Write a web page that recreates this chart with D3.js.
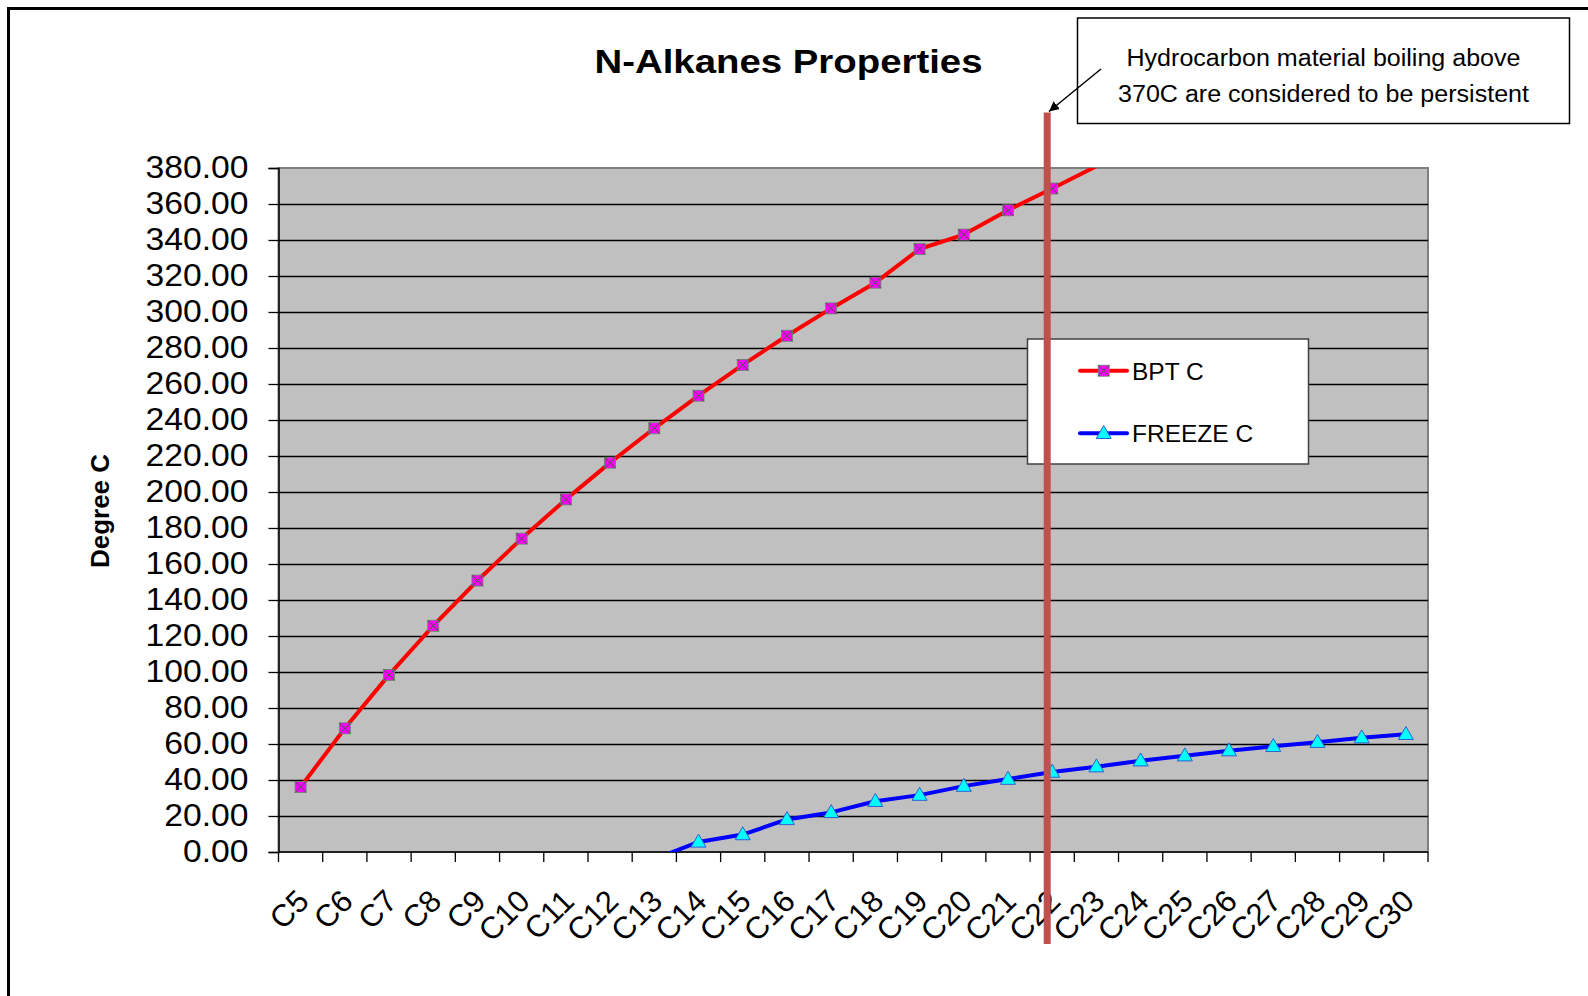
<!DOCTYPE html>
<html>
<head>
<meta charset="utf-8">
<script src="https://cdn.jsdelivr.net/npm/d3@7"></script>
<style>
  html, body { margin: 0; padding: 0; background: #fff; }
  svg { display: block; font-family: Arial, "Liberation Sans", sans-serif; }
</style>
</head>
<body>
<svg id="chart" width="1588" height="996"></svg>
<script>
// ---------- data ----------
const categories = ["C5","C6","C7","C8","C9","C10","C11","C12","C13","C14","C15","C16","C17",
  "C18","C19","C20","C21","C22","C23","C24","C25","C26","C27","C28","C29","C30"];
const bptValues = [36.1, 68.7, 98.4, 125.7, 150.8, 174.1, 195.9, 216.3, 235.4, 253.5, 270.6,
  286.8, 302.0, 316.3, 335.0, 343.0, 356.5, 368.6, 381.0, null, null, null, null, null, null, null];
const freezeValues = [null, null, null, null, null, null, null, null, -4.0, 5.6, 9.7, 18.1,
  22.0, 28.2, 31.6, 36.6, 40.5, 44.4, 47.4, 50.7, 53.5, 56.3, 58.7, 61.0, 63.5, 65.4];
const yTicks = [0, 20, 40, 60, 80, 100, 120, 140, 160, 180, 200, 220, 240, 260, 280, 300,
  320, 340, 360, 380];
const seriesNames = ["BPT C", "FREEZE C"];
const titleText = "N-Alkanes  Properties";
const yAxisTitle = "Degree C";
const noteLines = ["Hydrocarbon material boiling above", "370C are considered to be persistent"];
const markerCategory = "C22";

// ---------- layout ----------
const svg = d3.select("#chart");
const P = { left: 278.5, right: 1428, top: 168, bottom: 852 };

const x = d3.scaleBand().domain(categories).range([P.left, P.right]).padding(0);
const y = d3.scaleLinear().domain([0, 380]).range([P.bottom, P.top]);
const cx = c => x(c) + x.bandwidth() / 2;

// outer frame (only top & left visible)
svg.append("path").attr("d", "M8.5,1000V8.5H1600")
  .attr("fill", "none").attr("stroke", "#000").attr("stroke-width", 3);

// plot area
svg.append("rect").attr("x", P.left).attr("y", P.top)
  .attr("width", P.right - P.left).attr("height", P.bottom - P.top)
  .attr("fill", "#C0C0C0").attr("stroke", "#808080").attr("stroke-width", 2);

// gridlines
svg.append("g").selectAll("line").data(yTicks.filter(d => d > 0 && d < 380)).join("line")
  .attr("x1", P.left).attr("x2", P.right)
  .attr("y1", d => Math.round(y(d)) + 0.5).attr("y2", d => Math.round(y(d)) + 0.5)
  .attr("stroke", "#000").attr("stroke-width", 1.3);

// y axis
const emW = s => Array.from(s).reduce((a, ch) => a + (ch === "." ? 0.278 : 0.556), 0);
const yAxis = d3.axisLeft(y).tickValues(yTicks).tickSize(10).tickPadding(20)
  .tickFormat(d => d.toFixed(2));
const gy = svg.append("g").attr("transform", `translate(${P.left},0)`).call(yAxis);
gy.select(".domain").attr("stroke", "#000").attr("stroke-width", 1.5);
gy.selectAll(".tick line").attr("stroke", "#000").attr("stroke-width", 1.3);
gy.selectAll(".tick text").attr("font-size", 31).attr("fill", "#000")
  .attr("font-family", "Arial, 'Liberation Sans', sans-serif")
  .attr("textLength", d => 103 * emW(d.toFixed(2)) / 3.058).attr("lengthAdjust", "spacingAndGlyphs");

// x axis: ticks at category boundaries
const xBound = categories.map(c => x(c)).concat([P.right]);
const gx = svg.append("g");
gx.append("line").attr("x1", P.left).attr("x2", P.right)
  .attr("y1", P.bottom).attr("y2", P.bottom).attr("stroke", "#000").attr("stroke-width", 1.5);
gx.selectAll("line.t").data(xBound).join("line").attr("class", "t")
  .attr("x1", d => d).attr("x2", d => d).attr("y1", P.bottom).attr("y2", P.bottom + 10)
  .attr("stroke", "#000").attr("stroke-width", 1.3);
gx.selectAll("text").data(categories).join("text")
  .attr("transform", d => `translate(${cx(d) + 10},${903}) rotate(-45)`)
  .attr("text-anchor", "end").attr("font-size", 31).attr("fill", "#000")
  .text(d => d);

// clip for series
svg.append("clipPath").attr("id", "plotclip").append("rect")
  .attr("x", P.left).attr("y", P.top).attr("width", P.right - P.left).attr("height", P.bottom - P.top);

const line = d3.line().defined(d => d.v != null).x(d => cx(d.c)).y(d => y(d.v));
const bpt = categories.map((c, i) => ({ c, v: bptValues[i] }));
const frz = categories.map((c, i) => ({ c, v: freezeValues[i] }));

const series = svg.append("g").attr("clip-path", "url(#plotclip)");
series.append("path").datum(bpt).attr("d", line)
  .attr("fill", "none").attr("stroke", "#FF0000").attr("stroke-width", 4).attr("stroke-linejoin", "round");
series.append("path").datum(frz).attr("d", line)
  .attr("fill", "none").attr("stroke", "#0000FF").attr("stroke-width", 4).attr("stroke-linejoin", "round");

function squareX(g, px, py) {
  const s = 5.5;
  g.append("rect").attr("x", px - s).attr("y", py - s).attr("width", 2 * s).attr("height", 2 * s)
    .attr("fill", "#FF00FF").attr("stroke", "#5E8A5E").attr("stroke-width", 0.8);
  g.append("path").attr("d", `M${px - s},${py - s}L${px + s},${py + s}M${px - s},${py + s}L${px + s},${py - s}`)
    .attr("stroke", "#3A5A3A").attr("stroke-width", 1);
}
function triangle(g, px, py) {
  const w = 7.5, h = 13;
  g.append("path").attr("d", `M${px},${py - h * 0.6}L${px + w},${py + h * 0.4}L${px - w},${py + h * 0.4}Z`)
    .attr("fill", "#00FFFF").attr("stroke", "#2F5FD0").attr("stroke-width", 1);
}

const mk = svg.append("g");
bpt.filter(d => d.v != null && d.v >= 0 && d.v < 380).forEach(d => squareX(mk, cx(d.c), y(d.v)));
frz.filter(d => d.v != null && d.v >= 0 && d.v <= 380).forEach(d => triangle(mk, cx(d.c), y(d.v)));

// title
svg.append("text").attr("x", 788.5).attr("y", 73).attr("text-anchor", "middle")
  .attr("font-size", 33).attr("font-weight", "bold").attr("fill", "#000")
  .attr("textLength", 388).attr("lengthAdjust", "spacingAndGlyphs")
  .text(titleText);

// y axis title
svg.append("text").attr("transform", "translate(109,511) rotate(-90)").attr("text-anchor", "middle")
  .attr("font-size", 25).attr("font-weight", "bold").attr("fill", "#000")
  .attr("textLength", 114).attr("lengthAdjust", "spacingAndGlyphs")
  .text(yAxisTitle);

// legend
const L = { x: 1027.5, y: 339, w: 281, h: 125 };
const lg = svg.append("g");
lg.append("rect").attr("x", L.x).attr("y", L.y).attr("width", L.w).attr("height", L.h)
  .attr("fill", "#fff").attr("stroke", "#404040").attr("stroke-width", 1.5);
[370.7, 433.3].forEach((ly, i) => {
  lg.append("line").attr("x1", 1080).attr("x2", 1127).attr("y1", ly).attr("y2", ly)
    .attr("stroke", i === 0 ? "#FF0000" : "#0000FF").attr("stroke-width", 4).attr("stroke-linecap", "round");
  if (i === 0) squareX(lg, 1103.7, ly); else triangle(lg, 1103.7, ly);
  lg.append("text").attr("x", 1132).attr("y", ly).attr("dy", "0.36em")
    .attr("font-size", 24.5).attr("fill", "#000").text(seriesNames[i]);
});

// vertical marker bar at C22
svg.append("rect").attr("x", cx(markerCategory) - 3.5 - 5).attr("y", 112.5)
  .attr("width", 7).attr("height", 944 - 112.5).attr("fill", "#C0504D");

// annotation box
svg.append("rect").attr("x", 1077.5).attr("y", 18).attr("width", 492).attr("height", 105.5)
  .attr("fill", "#fff").attr("stroke", "#000").attr("stroke-width", 1.5);
const noteW = [394, 411];
noteLines.forEach((t, i) => {
  svg.append("text").attr("x", 1323.5).attr("y", 66 + i * 35.5).attr("text-anchor", "middle")
    .attr("font-size", 23.5).attr("fill", "#000")
    .attr("textLength", noteW[i]).attr("lengthAdjust", "spacingAndGlyphs").text(t);
});

// arrow
svg.append("defs").append("marker").attr("id", "arr").attr("viewBox", "0 0 10 10")
  .attr("refX", 10).attr("refY", 5).attr("markerWidth", 10).attr("markerHeight", 10)
  .attr("markerUnits", "userSpaceOnUse").attr("orient", "auto")
  .append("path").attr("d", "M0,0L10,5L0,10Z").attr("fill", "#000");
svg.append("line").attr("x1", 1101).attr("y1", 69).attr("x2", 1049).attr("y2", 111.5)
  .attr("stroke", "#000").attr("stroke-width", 1.5).attr("marker-end", "url(#arr)");
</script>
</body>
</html>
